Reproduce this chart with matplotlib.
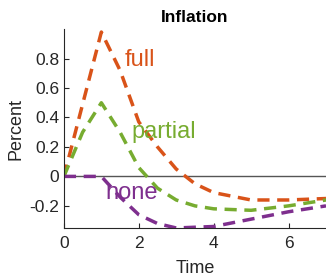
import matplotlib
matplotlib.use("Agg")
import matplotlib.pyplot as plt

plt.rcParams['font.family'] = ['Liberation Sans', 'DejaVu Sans']

# impulse responses of inflation
t_full = [0, 1, 1.5, 2, 2.5, 3, 3.5, 4, 5, 6, 7]
full = [0, 0.98, 0.72, 0.37, 0.2, 0.05, -0.05, -0.11, -0.16, -0.16, -0.15]

t_partial = [0, 0.5, 1, 1.5, 2, 2.5, 3, 3.5, 4, 5, 6, 7]
partial = [0, 0.3, 0.5, 0.3, 0.06, -0.08, -0.16, -0.2, -0.22, -0.23, -0.2, -0.16]

t_none = [0, 1, 1.5, 2, 2.5, 3, 4, 5, 6, 7]
none = [0, 0, -0.14, -0.26, -0.32, -0.35, -0.34, -0.29, -0.24, -0.2]

colors = {"full": "#D95319", "partial": "#77AC30", "none": "#7E2F8E"}

fig = plt.figure(figsize=(3.26, 2.77), dpi=100)
ax = fig.add_axes([0.196, 0.177, 0.804, 0.718])

ax.axhline(0, color="#555555", lw=1)
dash = (0, (3.5, 2.2))
ax.plot(t_full, full, color=colors["full"], lw=2.5, linestyle=dash)
ax.plot(t_partial, partial, color=colors["partial"], lw=2.5, linestyle=dash)
ax.plot(t_none, none, color=colors["none"], lw=2.5, linestyle=dash)

ax.text(1.63, 0.79, "full", color=colors["full"], fontsize=17, va="center")
ax.text(1.81, 0.3, "partial", color=colors["partial"], fontsize=17, va="center")
ax.text(1.12, -0.11, "none", color=colors["none"], fontsize=17, va="center")

ax.set_xlim(0, 7)
ax.set_ylim(-0.35, 1.0)
ax.set_xticks([0, 2, 4, 6])
ax.set_yticks([-0.2, 0, 0.2, 0.4, 0.6, 0.8])
ax.set_yticklabels(["-0.2", "0", "0.2", "0.4", "0.6", "0.8"])
ax.tick_params(direction="in", labelsize=12.5, colors="#262626", length=3.5)
ax.tick_params(axis="x", pad=6)
ax.spines["top"].set_visible(False)
ax.spines["right"].set_visible(False)
ax.spines["left"].set_color("#262626")
ax.spines["bottom"].set_color("#262626")

ax.set_title("Inflation", fontsize=12.5, fontweight="bold", pad=5)
ax.set_xlabel("Time", fontsize=13, color="#262626", labelpad=6)
ax.set_ylabel("Percent", fontsize=13, color="#262626", labelpad=3)

fig.savefig("out.png", dpi=100)
